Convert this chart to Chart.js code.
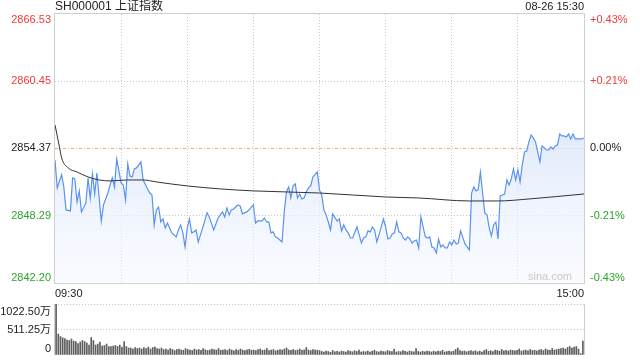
<!DOCTYPE html>
<html>
<head>
<meta charset="utf-8">
<script src="https://cdn.jsdelivr.net/npm/chart.js@4.4.0/dist/chart.umd.min.js"></script>
<style>
    html, body { margin: 0; padding: 0; background: #fff; }
    #wrap { position: relative; width: 640px; height: 360px; overflow: hidden; }
    canvas { position: absolute; left: 0; }
    #price-canvas { top: 0; }
    #vol-canvas { top: 300px; }
</style>
</head>
<body>
<div id="wrap">
    <canvas id="price-canvas" width="640" height="300"></canvas>
    <canvas id="vol-canvas" width="640" height="60"></canvas>
</div>
<script>
// ============================================
// SH000001 intraday (08-26) - price + volume
// ============================================

const TITLE = 'SH000001 上证指数';
const STAMP = '08-26 15:30';
const PREV_CLOSE = 2854.37;
const PRICE_TICKS = [2842.20, 2848.29, 2854.37, 2860.45, 2866.53];
const PCT_LABELS = ['-0.43%', '-0.21%', '0.00%', '+0.21%', '+0.43%'];
const TIME_LABELS = ['09:30', '15:00'];
const VOL_TICKS = [0, 511.25, 1022.50];
const VOL_LABELS = ['0', '511.25万', '1022.50万'];
const WATERMARK = 'sina.com';

// minutes after 09:30 (lunch break removed) and last price
const priceMinutes = [
    0, 1, 3, 4, 5, 7, 8, 9, 10, 11, 12, 14, 15, 16, 17, 18, 19, 20, 21, 22,
    24, 25, 26, 27, 28, 30, 31, 32, 33, 34, 35, 36, 37, 39, 40, 42, 43, 44, 45, 46,
    47, 48, 49, 50, 51, 53, 55, 56, 57, 58, 59, 60, 61, 62, 63, 64, 65, 66, 67, 69,
    70, 72, 74, 75, 76, 77, 78, 79, 80, 81, 83, 84, 85, 87, 88, 90, 91, 92, 94, 95,
    96, 97, 98, 99, 100, 101, 103, 104, 105, 106, 107, 108, 109, 110, 111, 112, 113, 114, 115, 116,
    117, 119, 120, 121, 122, 123, 124, 125, 126, 128, 129, 130, 131, 132, 133, 134, 135, 137, 138, 139,
    140, 141, 142, 143, 144, 145, 146, 147, 148, 149, 150, 151, 152, 153, 154, 155, 156, 157, 158, 159,
    160, 161, 162, 163, 164, 165, 166, 168, 169, 170, 171, 172, 173, 174, 175, 176, 177, 178, 179, 180,
    181, 182, 183, 184, 186, 187, 188, 189, 190, 191, 192, 193, 194, 195, 196, 197, 198, 199, 200, 201,
    202, 203, 204, 205, 206, 207, 208, 209, 210, 211, 212, 213, 214, 215, 216, 217, 218, 219, 220, 221,
    222, 223, 224, 225, 226, 227, 228, 229, 230, 231, 232, 233, 234, 235, 236, 237, 239, 240
];
const priceValues = [
    2853.33, 2850.80, 2851.97, 2850.89, 2848.81, 2848.72, 2851.70, 2851.61, 2849.53, 2850.53,
    2848.63, 2849.44, 2851.70, 2849.89, 2852.06, 2850.25, 2852.15, 2849.98, 2847.81, 2849.26,
    2850.34, 2851.07, 2851.70, 2850.89, 2853.42, 2851.25, 2851.07, 2849.71, 2852.97, 2851.88,
    2851.79, 2852.52, 2852.61, 2853.15, 2851.52, 2850.71, 2850.34, 2850.16, 2847.45, 2848.81,
    2849.08, 2847.72, 2847.99, 2847.18, 2847.63, 2846.73, 2846.37, 2847.00, 2847.45, 2846.73,
    2845.46, 2847.18, 2847.99, 2846.73, 2846.82, 2847.00, 2845.91, 2846.55, 2847.18, 2848.54,
    2848.17, 2847.00, 2848.08, 2848.36, 2848.63, 2848.17, 2848.99, 2848.36, 2848.81, 2848.90,
    2849.26, 2849.17, 2848.45, 2848.63, 2848.81, 2849.26, 2847.63, 2847.81, 2847.81, 2848.08,
    2847.72, 2847.72, 2846.73, 2846.82, 2846.37, 2846.27, 2845.91, 2848.63, 2850.44, 2850.89,
    2849.89, 2850.98, 2851.16, 2849.89, 2850.25, 2849.80, 2849.89, 2850.44, 2850.80, 2850.98,
    2851.79, 2852.24, 2850.62, 2850.16, 2848.81, 2848.36, 2847.72, 2847.00, 2848.45, 2847.81,
    2847.99, 2846.91, 2847.45, 2847.00, 2846.73, 2846.27, 2846.27, 2847.27, 2846.55, 2845.82,
    2846.27, 2846.37, 2846.91, 2846.82, 2847.27, 2847.00, 2845.91, 2846.55, 2847.27, 2847.99,
    2847.27, 2846.18, 2846.27, 2846.64, 2846.73, 2847.72, 2846.82, 2846.73, 2846.27, 2846.09,
    2846.37, 2846.18, 2845.82, 2846.00, 2846.09, 2845.37, 2848.17, 2846.37, 2846.27, 2846.37,
    2845.46, 2845.37, 2844.92, 2846.18, 2845.46, 2845.64, 2845.37, 2845.37, 2845.91, 2845.64,
    2846.09, 2845.73, 2845.82, 2846.91, 2845.73, 2845.46, 2845.19, 2850.34, 2850.89, 2850.53,
    2850.62, 2852.24, 2850.34, 2848.54, 2848.36, 2847.18, 2846.46, 2847.45, 2847.72, 2846.18,
    2850.07, 2850.16, 2850.25, 2851.52, 2851.07, 2851.61, 2852.52, 2851.52, 2852.43, 2851.34,
    2852.88, 2854.05, 2854.14, 2854.96, 2855.59, 2855.32, 2854.96, 2854.05, 2853.15, 2854.60,
    2854.42, 2854.23, 2854.23, 2854.51, 2854.32, 2854.60, 2854.69, 2855.68, 2855.50, 2855.50,
    2855.41, 2855.68, 2855.23, 2855.68, 2855.23, 2855.23, 2855.23, 2855.32
];

// average price line
const avgMinutes = [0, 2, 3, 6, 10, 15, 20, 25, 33, 40, 46, 60, 75, 90, 120, 150, 165, 188, 201, 215, 240];
const avgValues = [
    2856.50, 2854.51, 2853.51, 2852.61, 2852.24, 2851.79, 2851.52, 2851.43, 2851.52, 2851.52,
    2851.34, 2850.98, 2850.71, 2850.53, 2850.34, 2849.98, 2849.89, 2849.62, 2849.62, 2849.80, 2850.25
];

// volume per minute, in 万
const volumes = [
    1022, 420, 370, 345, 330, 300, 290, 320, 280, 270,
    230, 260, 290, 270, 240, 200, 350, 290, 200, 220,
    260, 180, 190, 220, 170, 170, 180, 190, 170, 200,
    160, 270, 170, 140, 140, 120, 150, 130, 140, 120,
    150, 130, 160, 120, 150, 160, 130, 120, 140, 110,
    120, 100, 130, 110, 90, 110, 120, 100, 95, 130,
    110, 100, 90, 120, 100, 110, 95, 130, 105, 90,
    100, 120, 110, 100, 130, 95, 100, 110, 90, 120,
    100, 85, 110, 95, 120, 100, 90, 105, 115, 95,
    100, 90, 110, 120, 95, 100, 130, 90, 100, 110,
    85, 95, 110, 100, 120, 140, 100, 95, 110, 90,
    100, 120, 95, 105, 150, 100, 90, 110, 100, 95,
    90, 70, 60, 80, 70, 55, 90, 65, 75, 60,
    80, 70, 60, 90, 75, 65, 85, 70, 100, 60,
    70, 65, 80, 60, 75, 95, 70, 60, 80, 70,
    65, 90, 75, 70, 120, 60, 70, 65, 90, 75,
    60, 80, 70, 65, 130, 70, 60, 75, 65, 80,
    70, 60, 75, 65, 80, 70, 95, 60, 70, 80,
    65, 75, 110, 140, 90, 70, 80, 65, 75, 90,
    70, 85, 65, 80, 60, 90, 110, 75, 85, 70,
    100, 90, 75, 110, 85, 95, 80, 100, 90, 85,
    95, 120, 80, 90, 100, 85, 110, 90, 95, 80,
    100, 110, 90, 120, 100, 95, 130, 100, 110, 120,
    130, 140, 120, 150, 170, 140, 160, 170, 120, 30,
    280
];

const FONT = "'Liberation Sans', Arial, 'Noto Sans CJK SC', sans-serif";
const RED = '#f03a3a';
const GREEN = '#2aa52a';
const GRID = '#c8c8c8';
const FRAME = '#cfcfcf';

function priceColor(v) {
    if (v > PREV_CLOSE + 0.001) return RED;
    if (v < PREV_CLOSE - 0.001) return GREEN;
    return '#222';
}

// frame + labels for the price panel
const priceDecor = {
    id: 'priceDecor',
    afterDraw(chart) {
        const { ctx, chartArea: a, scales } = chart;
        const ys = scales.y;
        ctx.save();
        ctx.strokeStyle = FRAME;
        ctx.lineWidth = 1;
        ctx.setLineDash([]);
        ctx.strokeRect(a.left - 0.5, a.top - 0.5, a.right - a.left + 1, a.bottom - a.top + 1);

        ctx.font = '11px ' + FONT;
        ctx.textBaseline = 'middle';
        PRICE_TICKS.forEach((v, i) => {
            let y = ys.getPixelForValue(v);
            if (i === 0) y -= 5;
            if (i === PRICE_TICKS.length - 1) y += 6;
            ctx.fillStyle = priceColor(v);
            ctx.textAlign = 'right';
            ctx.fillText(v.toFixed(2), a.left - 4, y);
            ctx.textAlign = 'left';
            ctx.fillText(PCT_LABELS[i], a.right + 6, y);
        });

        ctx.fillStyle = '#222';
        ctx.textAlign = 'left';
        ctx.font = '12px ' + FONT;
        ctx.fillText(TITLE, a.left, 7);
        ctx.font = '11px ' + FONT;
        ctx.textAlign = 'right';
        ctx.fillText(STAMP, a.right, 7);

        ctx.textAlign = 'left';
        ctx.fillText(TIME_LABELS[0], a.left, a.bottom + 11);
        ctx.textAlign = 'right';
        ctx.fillText(TIME_LABELS[1], a.right, a.bottom + 11);

        ctx.fillStyle = '#c9c9c9';
        ctx.fillText(WATERMARK, a.right - 12, a.bottom - 6);
        ctx.restore();
    }
};

const volDecor = {
    id: 'volDecor',
    afterDraw(chart) {
        const { ctx, chartArea: a, scales } = chart;
        const ys = scales.y;
        ctx.save();
        ctx.strokeStyle = FRAME;
        ctx.lineWidth = 1;
        ctx.beginPath();
        ctx.moveTo(a.left - 0.5, a.top);
        ctx.lineTo(a.left - 0.5, a.bottom);
        ctx.moveTo(a.right + 0.5, a.top);
        ctx.lineTo(a.right + 0.5, a.bottom);
        ctx.stroke();

        ctx.font = '11px ' + FONT;
        ctx.textBaseline = 'middle';
        ctx.textAlign = 'right';
        ctx.fillStyle = '#222';
        VOL_TICKS.forEach((v, i) => {
            let y = ys.getPixelForValue(v);
            if (i === 0) y -= 6;
            if (i === VOL_TICKS.length - 1) y += 8;
            ctx.fillText(VOL_LABELS[i], a.left - 4, y);
        });
        ctx.restore();
    }
};

const priceData = priceMinutes.map((m, i) => ({ x: m, y: priceValues[i] }));
const avgData = avgMinutes.map((m, i) => ({ x: m, y: avgValues[i] }));
const volData = volumes.map((v, i) => ({ x: i, y: v }));

new Chart(document.getElementById('price-canvas'), {
    type: 'line',
    data: {
        datasets: [{
            data: avgData,
            borderColor: '#333',
            borderWidth: 1,
            pointRadius: 0,
            cubicInterpolationMode: 'monotone',
            fill: false
        }, {
            data: priceData,
            borderColor: '#5a93ef',
            borderWidth: 1.2,
            pointRadius: 0,
            tension: 0,
            fill: 'start',
            backgroundColor: (c) => {
                const area = c.chart.chartArea;
                if (!area) return 'rgba(225,235,252,0.5)';
                const g = c.chart.ctx.createLinearGradient(0, area.top + 110, 0, area.bottom);
                g.addColorStop(0, 'rgba(218,230,251,0.85)');
                g.addColorStop(1, 'rgba(244,247,255,0.5)');
                return g;
            }
        }]
    },
    options: {
        responsive: false,
        animation: false,
        events: [],
        layout: { padding: { left: 55, right: 56, top: 14, bottom: 17 } },
        plugins: { legend: { display: false }, tooltip: { enabled: false } },
        scales: {
            x: {
                type: 'linear',
                min: 0,
                max: 240,
                afterFit: s => { s.height = 0; },
                ticks: { display: false, stepSize: 30 },
                grid: {
                    drawTicks: false,
                    color: c => (c.tick.value === 0 || c.tick.value === 240) ? 'rgba(0,0,0,0)' : GRID
                },
                border: { display: false, dash: [1, 2] }
            },
            y: {
                min: 2842.20,
                max: 2866.53,
                afterFit: s => { s.width = 0; },
                afterBuildTicks: s => { s.ticks = PRICE_TICKS.map(v => ({ value: v })); },
                ticks: { display: false },
                grid: {
                    drawTicks: false,
                    color: c => {
                        const v = c.tick.value;
                        if (v === PRICE_TICKS[0] || v === PRICE_TICKS[4]) return 'rgba(0,0,0,0)';
                        return v === PREV_CLOSE ? '#f3a878' : GRID;
                    }
                },
                border: {
                    display: false,
                    dash: c => (c.tick && c.tick.value === PREV_CLOSE) ? [3, 2, 1, 2] : [1, 2]
                }
            }
        }
    },
    plugins: [priceDecor]
});

new Chart(document.getElementById('vol-canvas'), {
    type: 'bar',
    data: {
        datasets: [{
            data: volData,
            backgroundColor: '#5e5e5e',
            barThickness: 1,
            grouped: false
        }]
    },
    options: {
        responsive: false,
        animation: false,
        events: [],
        layout: { padding: { left: 55, right: 56, top: 4, bottom: 5 } },
        plugins: { legend: { display: false }, tooltip: { enabled: false } },
        scales: {
            x: {
                type: 'linear',
                offset: false,
                min: -0.5,
                max: 240.5,
                afterFit: s => { s.height = 0; },
                ticks: { display: false },
                grid: { display: false, offset: false },
                border: { display: false }
            },
            y: {
                min: 0,
                max: 1022.50,
                afterFit: s => { s.width = 0; },
                afterBuildTicks: s => { s.ticks = VOL_TICKS.map(v => ({ value: v })); },
                ticks: { display: false },
                grid: {
                    drawTicks: false,
                    color: c => c.tick.value === 0 ? 'rgba(0,0,0,0)' : GRID
                },
                border: { display: false, dash: [1, 2] }
            }
        }
    },
    plugins: [volDecor]
});
</script>
</body>
</html>
